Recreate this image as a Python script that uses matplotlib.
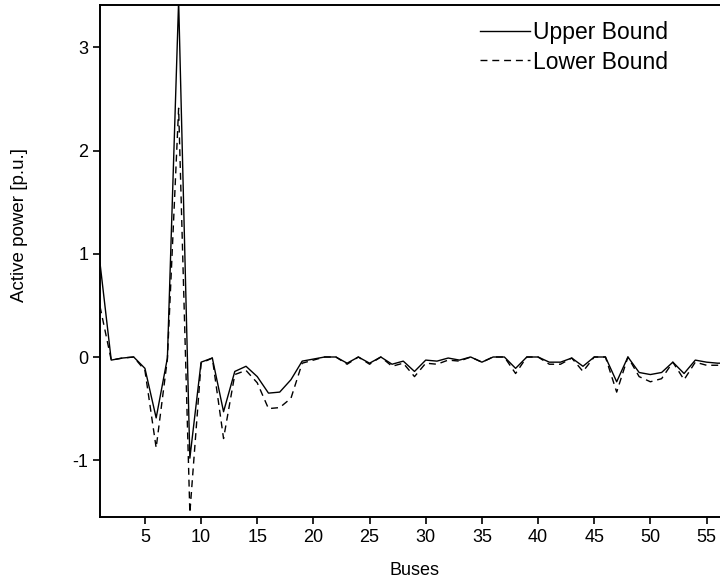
import numpy as np
import matplotlib.pyplot as plt

plt.rcParams['font.family'] = ['Liberation Sans', 'DejaVu Sans']
plt.rcParams['axes.unicode_minus'] = False

# Active power bounds per bus (p.u.)
buses = np.arange(1, 58)
upper = [0.91, -0.03, -0.01, 0.0, -0.11, -0.59, -0.01, 3.45, -0.98, -0.05,
         -0.01, -0.53, -0.14, -0.09, -0.19, -0.35, -0.34, -0.22, -0.04, -0.02,
         0.0, 0.0, -0.06, 0.0, -0.06, 0.0, -0.07, -0.04, -0.14, -0.03,
         -0.04, -0.01, -0.03, 0.0, -0.05, 0.0, 0.0, -0.11, 0.0, 0.0,
         -0.05, -0.05, -0.01, -0.09, 0.0, 0.0, -0.24, 0.0, -0.15, -0.17,
         -0.15, -0.05, -0.16, -0.03, -0.05, -0.06, -0.06]
lower = [0.49, -0.03, -0.01, 0.0, -0.13, -0.88, -0.02, 2.41, -1.51, -0.06,
         -0.01, -0.79, -0.17, -0.13, -0.25, -0.50, -0.49, -0.40, -0.06, -0.03,
         0.0, 0.0, -0.07, 0.0, -0.07, 0.0, -0.09, -0.06, -0.19, -0.06,
         -0.07, -0.03, -0.04, 0.0, -0.05, 0.0, 0.0, -0.16, 0.0, 0.0,
         -0.07, -0.07, -0.01, -0.14, 0.0, 0.0, -0.34, 0.0, -0.19, -0.24,
         -0.21, -0.05, -0.22, -0.05, -0.08, -0.08, -0.08]

fig = plt.figure(figsize=(7.2, 5.83), dpi=100)
ax = fig.add_axes([100 / 720, 66 / 583, 629 / 720, 512 / 583])

ax.plot(buses, upper, color='black', lw=1.0, label='Upper Bound')
ax.plot(buses, lower, color='black', lw=1.0, dashes=(5, 3.5), label='Lower Bound')

ax.set_xlim(1, 57)
ax.set_ylim(-1.55, 3.41)
ax.set_xticks(np.arange(5, 56, 5))
ax.set_yticks([-1, 0, 1, 2, 3])
for s in ax.spines.values():
    s.set_linewidth(1.4)
ax.tick_params(direction='out', length=5, width=1.2, labelsize=13)

ax.set_xlabel('Buses', fontsize=13, labelpad=12)
ax.set_ylabel('Active power [p.u.]', fontsize=13.5)
ax.yaxis.set_label_coords(-0.115, 0.57)

ax.legend(loc='upper left', bbox_to_anchor=(459 / 720, 1),
          bbox_transform=fig.transFigure, frameon=False, fontsize=16.5,
          handlelength=2.2, handletextpad=0.15, labelspacing=0.3)

fig.savefig('out.png', dpi=100)
